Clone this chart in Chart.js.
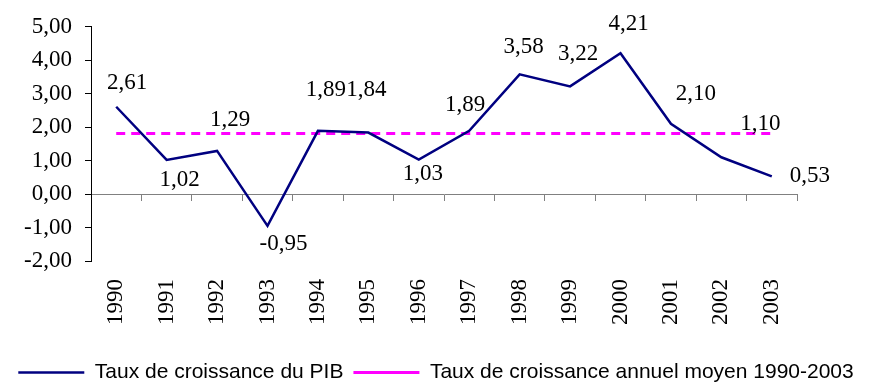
<!DOCTYPE html>
<html lang="fr">
<head>
<meta charset="utf-8">
<script src="https://cdn.jsdelivr.net/npm/chart.js@4/dist/chart.umd.min.js"></script>
<style>
  html, body { margin: 0; padding: 0; background: #ffffff; }
  #wrap { width: 872px; height: 383px; }
</style>
</head>
<body>
<div id="wrap"><canvas id="chart"></canvas></div>
<script>
// Années
const years = ['1990','1991','1992','1993','1994','1995','1996','1997','1998','1999','2000','2001','2002','2003'];
// Taux de croissance du PIB (%)
const gdpGrowth = [2.61, 1.02, 1.29, -0.95, 1.89, 1.84, 1.03, 1.89, 3.58, 3.22, 4.21, 2.10, 1.10, 0.53];
// Taux de croissance annuel moyen 1990-2003 (%)
const averageGrowth = [1.81, 1.81, 1.81, 1.81, 1.81, 1.81, 1.81, 1.81, 1.81, 1.81, 1.81, 1.81, 1.81, 1.81];
// Graduations de l'axe vertical
const yTicks = [-2, -1, 0, 1, 2, 3, 4, 5];

// Décalage (px) de chaque étiquette de valeur par rapport à son point
const labelOffsets = [
  [11, -24], [13, 20], [13, -31], [16, 18], [8, -41], [-2, -43], [4, 14],
  [-4, -26], [4, -27], [8, -32], [8, -29], [25, -30], [39, -33], [38, 0]
];

const fmt = v => Number(v).toFixed(2).replace('.', ',');
const serif = "'Liberation Serif', 'Times New Roman', serif";

const valueLabels = {
  id: 'valueLabels',
  afterDatasetsDraw(chart) {
    const meta = chart.getDatasetMeta(0);
    const ctx = chart.ctx;
    ctx.save();
    ctx.font = '23px ' + serif;
    ctx.fillStyle = '#000000';
    ctx.textAlign = 'center';
    ctx.textBaseline = 'middle';
    meta.data.forEach((pt, i) => {
      const [dx, dy] = labelOffsets[i];
      ctx.fillText(fmt(gdpGrowth[i]), pt.x + dx, pt.y + dy);
    });
    ctx.restore();
  }
};

new Chart(document.getElementById('chart'), {
  type: 'line',
  data: {
    labels: years,
    datasets: [
      {
        label: 'Taux de croissance du PIB',
        data: gdpGrowth,
        borderColor: '#000080',
        backgroundColor: '#000080',
        borderWidth: 2.5,
        pointRadius: 0,
        tension: 0,
        fill: false
      },
      {
        label: 'Taux de croissance annuel moyen 1990-2003',
        data: averageGrowth,
        borderColor: '#FF00FF',
        backgroundColor: '#FF00FF',
        borderWidth: 3,
        borderDash: [9, 6],
        pointRadius: 0,
        tension: 0,
        fill: false
      }
    ]
  },
  options: {
    responsive: true,
    maintainAspectRatio: false,
    animation: false,
    layout: { padding: { left: 0, right: 0, top: 17, bottom: -10 } },
    plugins: {
      tooltip: { enabled: false },
      legend: {
        position: 'bottom',
        labels: {
          usePointStyle: true,
          pointStyle: 'line',
          pointStyleWidth: 66,
          boxWidth: 66,
          padding: 10,
          color: '#000000',
          font: { family: "'Liberation Sans', Arial, sans-serif", size: 21 }
        }
      }
    },
    scales: {
      x: {
        type: 'category',
        offset: true,
        afterFit(scale) { scale.height += 9; },
        grid: { display: false, drawTicks: false },
        border: { display: false },
        ticks: {
          minRotation: 90,
          maxRotation: 90,
          autoSkip: false,
          padding: 18,
          color: '#000000',
          font: { family: serif, size: 23 }
        }
      },
      x0: {
        type: 'category',
        position: { y: 0 },
        offset: true,
        grid: {
          offset: true,
          drawOnChartArea: false,
          drawTicks: true,
          tickLength: 6,
          color: '#808080',
          lineWidth: 1
        },
        border: { display: true, color: '#808080', width: 1 },
        ticks: { display: false, autoSkip: false }
      },
      y: {
        min: -2,
        max: 5,
        afterFit(scale) { scale.width = 91; },
        afterBuildTicks(scale) { scale.ticks = yTicks.map(v => ({ value: v })); },
        grid: {
          drawOnChartArea: false,
          drawTicks: true,
          tickLength: 6,
          color: '#000000',
          lineWidth: 1
        },
        border: { display: true, color: '#000000', width: 1 },
        ticks: {
          autoSkip: false,
          padding: 13,
          color: '#000000',
          font: { family: serif, size: 23 },
          callback: v => fmt(v)
        }
      },
      // marge droite réservée aux étiquettes de fin de série
      yRight: {
        position: 'right',
        display: true,
        afterFit(scale) { scale.width = 75; },
        grid: { display: false, drawTicks: false },
        border: { display: false },
        ticks: { display: false }
      }
    }
  },
  plugins: [valueLabels]
});
</script>
</body>
</html>
